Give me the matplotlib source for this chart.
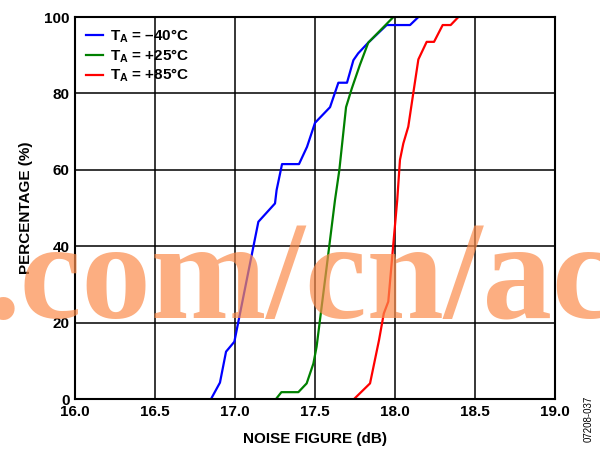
import matplotlib
matplotlib.use("Agg")
import matplotlib.pyplot as plt

plt.rcParams['font.family'] = ['Liberation Sans', 'DejaVu Sans']
plt.rcParams['mathtext.fontset'] = 'custom'
plt.rcParams['mathtext.it'] = 'Liberation Sans:bold'
plt.rcParams['mathtext.rm'] = 'Liberation Sans:bold'

# noise figure (dB) vs cumulative percentage
nf_m40 = [16.85, 16.906, 16.944, 16.996, 17.146, 17.25, 17.26, 17.294, 17.40, 17.45,
          17.50, 17.594, 17.646, 17.70, 17.74, 17.77, 17.833, 17.948, 18.094, 18.146]
pct_m40 = [0, 4.3, 12.4, 15.0, 46.4, 51.2, 54.7, 61.5, 61.5, 66.0,
           72.3, 76.4, 82.8, 82.8, 88.7, 90.5, 93.3, 97.9, 97.9, 100]

nf_p25 = [17.256, 17.29, 17.396, 17.448, 17.49, 17.51, 17.573, 17.625, 17.652, 17.694,
          17.73, 17.78, 17.833, 17.99]
pct_p25 = [0, 1.8, 1.8, 4.1, 9.3, 13.7, 34.6, 52.1, 59.9, 76.4,
           81.3, 87.4, 93.3, 100]

nf_p85 = [17.744, 17.844, 17.90, 17.93, 17.958, 17.99, 18.014, 18.031, 18.052, 18.083,
          18.114, 18.146, 18.198, 18.244, 18.298, 18.348, 18.396]
pct_p85 = [0, 4.1, 15.4, 22.4, 25.5, 40.8, 52.1, 62.6, 66.9, 71.3,
           80.0, 88.9, 93.5, 93.5, 97.9, 97.9, 100]

xticks = [16.0, 16.5, 17.0, 17.5, 18.0, 18.5, 19.0]
yticks = [0, 20, 40, 60, 80, 100]

fig = plt.figure(figsize=(6, 4.55), dpi=100)
ax = fig.add_axes([0.125, 0.123, 0.8, 0.8396])

ax.plot(nf_m40, pct_m40, color='#0000FF', lw=1.6, label=r'T$_A$ = –40°C')
ax.plot(nf_p25, pct_p25, color='#008000', lw=1.6, label=r'T$_A$ = +25°C')
ax.plot(nf_p85, pct_p85, color='#FF0000', lw=1.6, label=r'T$_A$ = +85°C')

ax.set_xlim(16.0, 19.0)
ax.set_ylim(0, 100)
ax.set_xticks(xticks)
ax.set_xticklabels([f"{t:.1f}" for t in xticks])
ax.set_yticks(yticks)
ax.grid(True, color='black', lw=1.1)
ax.tick_params(length=0, labelsize=11, pad=4)
for lab in ax.get_xticklabels() + ax.get_yticklabels():
    lab.set_fontweight('bold')
for sp in ax.spines.values():
    sp.set_linewidth(1.5)

ax.set_xlabel('NOISE FIGURE (dB)', fontsize=11, fontweight='bold', labelpad=10)
ax.set_ylabel('PERCENTAGE (%)', fontsize=11, fontweight='bold', labelpad=8)

leg = ax.legend(loc='upper left', frameon=False, fontsize=11, handlelength=1.1,
                handletextpad=0.5, labelspacing=0.15, borderaxespad=0.3,
                prop={'weight': 'bold', 'size': 11})

fig.text(0.981, 0.08, '07208-037', rotation=90, fontsize=7, ha='center', va='center')

# watermark
fig.text(0.5, 0.30, '.com/cn/ac', fontsize=100, fontweight='bold', family='Liberation Serif',
         color='#FB8C4C', alpha=0.7, ha='center', va='baseline')

fig.savefig('out.png', dpi=100)
